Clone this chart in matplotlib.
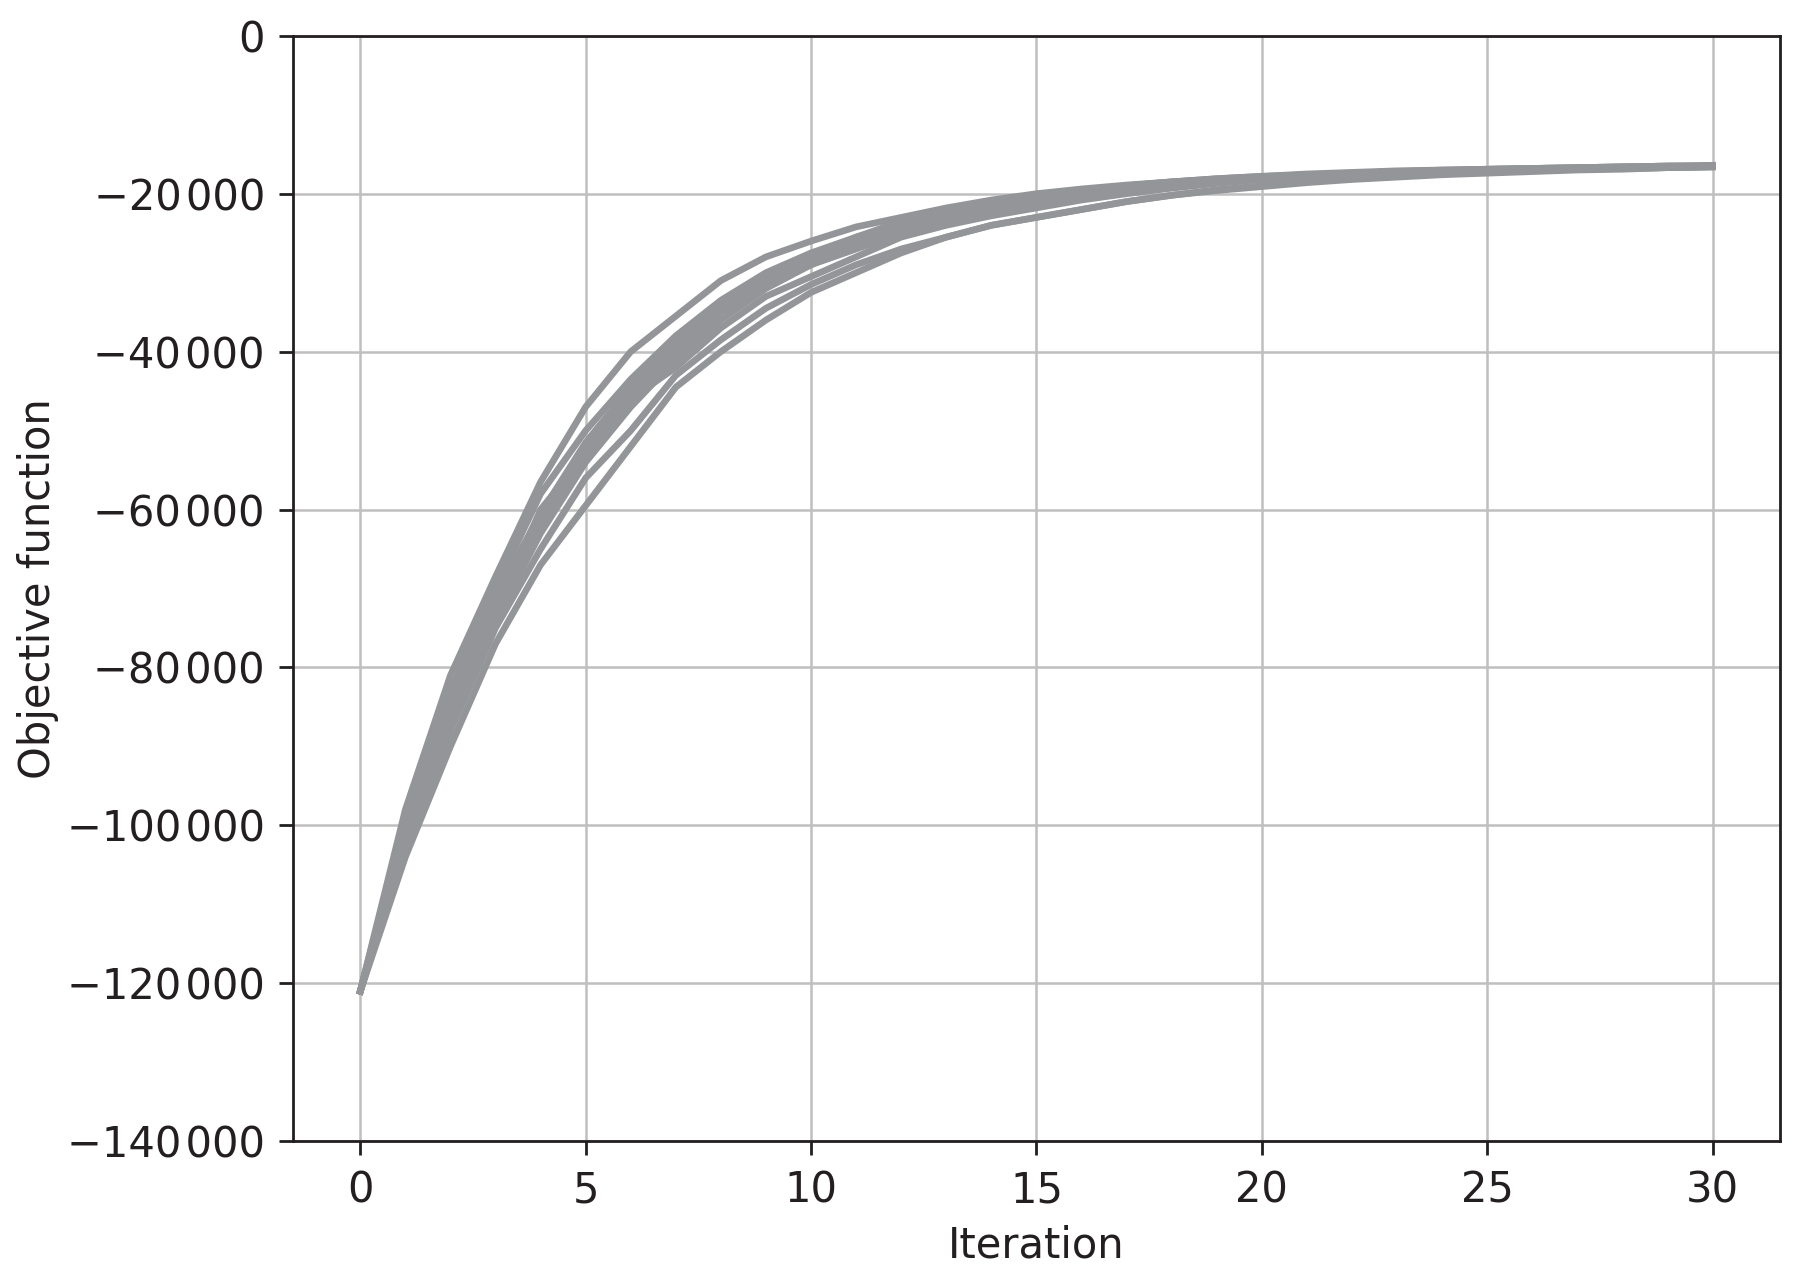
import numpy as np
import matplotlib
matplotlib.use("Agg")
import matplotlib.pyplot as plt
from matplotlib.ticker import FuncFormatter

# iterations and objective value per run (in thousands)
iterations = list(range(31))

run_1 = [-121, -98, -81, -68.5, -56.5, -47, -40, -35.5, -31, -28, -26, -24.2, -23, -21.8, -20.8, -20.0,
         -19.4, -18.9, -18.5, -18.2, -17.9, -17.7, -17.5, -17.3, -17.2, -17.1, -17.0, -16.9, -16.8, -16.7, -16.6]
run_2 = [-121, -104, -90, -77, -67, -59.5, -52, -44.5, -40, -36, -32.5, -30, -27.5, -25.5, -24, -23,
         -22, -21, -20.2, -19.6, -19.1, -18.6, -18.2, -17.9, -17.6, -17.4, -17.2, -17.0, -16.9, -16.7, -16.6]
run_3 = [-121, -100, -84, -72, -61, -52, -45, -39, -34, -30.5, -28, -25.5, -23.5, -22, -21, -20.3,
         -19.6, -19.0, -18.5, -18.1, -17.8, -17.5, -17.3, -17.1, -17.0, -16.9, -16.8, -16.7, -16.6, -16.5, -16.5]
run_4 = [-121, -102, -86, -74, -63, -54, -47, -41, -36, -32, -29, -27, -25, -23.5, -22.2, -21.2,
         -20.4, -19.7, -19.1, -18.6, -18.2, -17.8, -17.5, -17.3, -17.1, -16.9, -16.8, -16.7, -16.6, -16.5, -16.5]
run_5 = [-121, -101, -85, -73, -60, -53, -46, -42, -37, -33, -30.5, -28, -25.5, -24, -22.8, -21.8,
         -20.8, -20.0, -19.3, -18.7, -18.2, -17.8, -17.5, -17.3, -17.1, -17.0, -16.9, -16.8, -16.7, -16.6, -16.5]
run_6 = [-121, -103, -88, -75, -65, -56, -50, -43, -38.5, -34.5, -31.5, -29, -27, -25.5, -24, -23,
         -22, -21, -20.2, -19.5, -19.0, -18.5, -18.1, -17.8, -17.5, -17.3, -17.1, -16.9, -16.8, -16.7, -16.6]
run_7 = [-121, -99, -83, -70, -58, -50, -43.5, -38, -33.5, -30, -27.5, -25.5, -23.8, -22.3, -21.2, -20.3,
         -19.6, -19.0, -18.5, -18.1, -17.8, -17.6, -17.4, -17.2, -17.1, -17.0, -16.9, -16.8, -16.7, -16.6, -16.5]
run_8 = [-121, -101.5, -86, -72.5, -62, -53.5, -46, -40, -35, -31.5, -29, -26.5, -24.5, -23, -21.8, -20.8,
         -20.0, -19.3, -18.8, -18.3, -17.9, -17.6, -17.4, -17.2, -17.0, -16.9, -16.8, -16.7, -16.6, -16.5, -16.4]
run_9 = [-121, -100.5, -85, -71, -60.5, -51.5, -44.5, -39, -34.5, -31, -28.5, -26, -24, -22.5, -21.5, -20.6,
         -19.9, -19.3, -18.8, -18.4, -18.0, -17.7, -17.5, -17.3, -17.1, -17.0, -16.9, -16.8, -16.7, -16.6, -16.5]

runs = [run_1, run_2, run_3, run_4, run_5, run_6, run_7, run_8, run_9]

x_ticks = [0, 5, 10, 15, 20, 25, 30]
y_ticks = [0, -20000, -40000, -60000, -80000, -100000, -120000, -140000]

text_color = '#231f20'
line_color = '#939598'
grid_color = '#bfbfbf'

plt.rcParams['font.family'] = ['DejaVu Sans']
plt.rcParams['font.size'] = 15

fig = plt.figure(figsize=(9, 6.39), dpi=200)
ax = fig.add_axes([0.1626, 0.107, 0.8264, 0.865])

for run in runs:
    ax.plot(iterations, np.array(run) * 1000, color=line_color, lw=2.4, zorder=3)

ax.set_xlim(-1.5, 31.5)
ax.set_ylim(-140000, 0)
ax.set_xticks(x_ticks)
ax.set_yticks(y_ticks)


def thousands(v, pos):
    # narrow gap between digit groups, as in the reference
    s = f"{abs(int(v)):,}".replace(',', '\u200a')
    return ('\u2212' + s) if v < 0 else s


ax.yaxis.set_major_formatter(FuncFormatter(thousands))
ax.grid(True, color=grid_color, lw=0.9, zorder=0)
ax.set_axisbelow(True)

for sp in ax.spines.values():
    sp.set_color(text_color)
    sp.set_linewidth(1.0)
ax.tick_params(direction='out', length=5, width=1.0, color=text_color,
               labelcolor=text_color, labelsize=15, pad=5)

ax.set_xlabel('Iteration', color=text_color, fontsize=15, labelpad=5)
ax.set_ylabel('Objective function', color=text_color, fontsize=15, labelpad=3)

fig.savefig('out.png', dpi=200)
